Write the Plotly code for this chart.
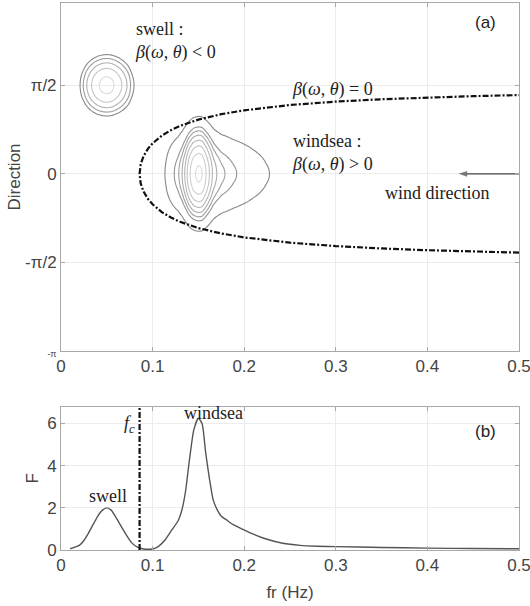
import numpy as np
import plotly.graph_objects as go

# ---------------- data ----------------
# 1-D spectrum F(fr), panel (b)
fr = [0.010, 0.020, 0.025, 0.030, 0.035, 0.040, 0.045, 0.050, 0.055, 0.060,
      0.066, 0.070, 0.077, 0.084, 0.090, 0.100, 0.106, 0.114, 0.121, 0.128,
      0.132, 0.136, 0.140, 0.145, 0.150, 0.154, 0.158, 0.162, 0.166, 0.170,
      0.175, 0.180, 0.188, 0.200, 0.210, 0.224, 0.242, 0.261, 0.280, 0.300,
      0.350, 0.400, 0.450, 0.500]
F = [0.06, 0.22, 0.45, 0.80, 1.20, 1.60, 1.88, 2.00, 1.88, 1.55,
     1.10, 0.80, 0.35, 0.12, 0.05, 0.05, 0.16, 0.50, 0.95, 1.40,
     1.90, 2.80, 4.20, 5.70, 6.25, 6.00, 4.60, 3.40, 2.40, 1.95,
     1.60, 1.45, 1.20, 0.95, 0.75, 0.52, 0.32, 0.22, 0.18, 0.16,
     0.12, 0.09, 0.07, 0.06]

f_c = 0.0858            # cut-off frequency (beta = 0 at theta = 0)
swell_dir = np.pi / 2   # mean direction of swell
wind_dir = 0.0          # mean direction of windsea
swell_spread = 0.27     # directional spreading (rad)
wind_spread = 0.45

# contour levels of the directional spectrum
swell_levels = [0.26, 0.42, 0.67, 1.07, 1.70]
wind_levels = [0.48, 1.12, 1.48, 1.95, 2.58, 3.40, 4.49, 5.90]

# beta(omega, theta) = 0 curve (upper branch)
fr_beta = [0.0858, 0.087, 0.090, 0.095, 0.100, 0.110, 0.120, 0.130, 0.150,
           0.175, 0.200, 0.250, 0.300, 0.350, 0.400, 0.450, 0.500]
th_beta = [0.000, 0.170, 0.310, 0.447, 0.540, 0.678, 0.775, 0.851, 0.962,
           1.058, 1.127, 1.221, 1.281, 1.323, 1.354, 1.378, 1.397]

x_ticks = [0, 0.1, 0.2, 0.3, 0.4, 0.5]
x_ticklabels = ["0", "0.1", "0.2", "0.3", "0.4", "0.5"]
dir_ticks = [-np.pi, -np.pi / 2, 0, np.pi / 2]
dir_ticklabels = ['<span style="font-size:9px">-π</span>', "-π/2", "0", "π/2"]
F_ticks = [0, 2, 4, 6]

serif = "Liberation Serif"
sans = "Liberation Sans"
tick_col = "#444444"
frame_col = "#a8a8a8"
grid_col = "#ececec"
dark_ring = np.array([0x88, 0x88, 0x88])
light_ring = np.array([0xdb, 0xdb, 0xdb])


def ring_color(i, n):
    t = i / max(n - 1, 1)
    c = (dark_ring + (light_ring - dark_ring) * t).astype(int)
    return "rgb(%d,%d,%d)" % tuple(c)


def spectrum_block(f_lo, f_hi, t_lo, t_hi, mean_dir, spread):
    fg = np.round(np.arange(f_lo, f_hi + 1e-9, 0.0015), 5)
    tg = np.round(np.arange(t_lo, t_hi + 1e-9, 0.025), 4)
    E = np.interp(fg, fr, F, left=0.0, right=0.0)
    EE, TT = np.meshgrid(E, tg)
    z = EE * np.exp(-((TT - mean_dir) ** 2) / (2 * spread ** 2))
    return fg, tg, np.round(z, 4)


fig = go.Figure()

blocks = [
    (spectrum_block(0.0, f_c, swell_dir - 1.3, swell_dir + 1.3, swell_dir, swell_spread),
     swell_levels),
    (spectrum_block(f_c, 0.27, -1.7, 1.7, wind_dir, wind_spread), wind_levels),
]
for (fg, tg, z), levels in blocks:
    n = len(levels)
    for i, lev in enumerate(levels):
        fig.add_trace(go.Contour(
            x=fg, y=tg, z=z, xaxis="x", yaxis="y",
            autocontour=False,
            contours=dict(start=lev, end=lev, size=1, coloring="none"),
            line=dict(width=1.1, color=ring_color(i, n)),
            showscale=False, hoverinfo="skip"))

# beta = 0 curve (lower branch mirrored + upper branch)
bx = fr_beta[::-1] + fr_beta[1:]
by = [-t for t in th_beta[::-1]] + th_beta[1:]
fig.add_trace(go.Scatter(
    x=bx, y=by, xaxis="x", yaxis="y", mode="lines",
    line=dict(color="#111111", width=2.2, dash="6px,2px,2px,2px"),
    hoverinfo="skip", showlegend=False))

# wind direction arrow
fig.add_trace(go.Scatter(
    x=[0.5, 0.434], y=[wind_dir, wind_dir], xaxis="x", yaxis="y",
    mode="lines+markers",
    line=dict(color="#444444", width=1.4),
    marker=dict(symbol=["line-ns", "arrow"], size=[0, 9], angleref="previous",
                color="#444444", line=dict(width=0)),
    hoverinfo="skip", showlegend=False, cliponaxis=False))

# panel (b) spectrum
fig.add_trace(go.Scatter(
    x=fr, y=F, xaxis="x2", yaxis="y2", mode="lines",
    line=dict(color="#555555", width=1.4, shape="spline", smoothing=0.6),
    hoverinfo="skip", showlegend=False))
fig.add_trace(go.Scatter(
    x=[f_c, f_c], y=[0, 6.8], xaxis="x2", yaxis="y2", mode="lines",
    line=dict(color="#111111", width=2.2, dash="6px,2px,2px,2px"),
    hoverinfo="skip", showlegend=False))

axis_common = dict(
    showline=True, linecolor=frame_col, linewidth=1, mirror="ticks",
    ticks="inside", ticklen=4, tickcolor=frame_col,
    showgrid=True, gridcolor=grid_col, gridwidth=1, zeroline=False,
    tickfont=dict(family=sans, size=17, color=tick_col),
    ticklabeloverflow="allow", automargin=False,
)

fig.update_layout(
    width=530, height=606,
    margin=dict(l=61, r=11, t=3, b=56),
    paper_bgcolor="white", plot_bgcolor="white",
    showlegend=False,
    xaxis=dict(domain=[0, 1], anchor="y", range=[0, 0.5],
               tickvals=x_ticks, ticktext=x_ticklabels, **axis_common),
    yaxis=dict(domain=[0.3638, 1], anchor="x", range=[-np.pi, 3.03],
               tickvals=dir_ticks, ticktext=dir_ticklabels,
               title=dict(text="Direction", font=dict(family=sans, size=17, color=tick_col),
                          standoff=0),
               **axis_common),
    xaxis2=dict(domain=[0, 1], anchor="y2", range=[0, 0.5],
                tickvals=x_ticks, ticktext=x_ticklabels,
                title=dict(text="fr (Hz)", font=dict(family=sans, size=17, color=tick_col),
                           standoff=11),
                **axis_common),
    yaxis2=dict(domain=[0, 0.262], anchor="x2", range=[0, 6.8],
                tickvals=F_ticks,
                title=dict(text="F", font=dict(family=sans, size=17, color=tick_col),
                           standoff=4),
                **axis_common),
)

txt = "#222222"
sfont = dict(family=serif, size=18, color=txt)
ann = [
    dict(x=0.0785, y=2.35, xref="x", yref="y",
         text="swell :<br><i>β</i>(<i>ω</i>, <i>θ</i>) &lt; 0",
         xanchor="left", align="left", font=sfont),
    dict(x=0.2497, y=1.50, xref="x", yref="y",
         text="<i>β</i>(<i>ω</i>, <i>θ</i>) = 0", xanchor="left", font=sfont),
    dict(x=0.2497, y=0.37, xref="x", yref="y",
         text="windsea :<br><i>β</i>(<i>ω</i>, <i>θ</i>) &gt; 0",
         xanchor="left", align="left", font=sfont),
    dict(x=0.351, y=-0.34, xref="x", yref="y", text="wind direction",
         xanchor="left", font=sfont),
    dict(x=0.463, y=2.69, xref="x", yref="y", text="(a)",
         font=dict(family=sans, size=17, color=txt)),
    dict(x=0.463, y=5.62, xref="x2", yref="y2", text="(b)",
         font=dict(family=sans, size=17, color=txt)),
    dict(x=0.1669, y=6.50, xref="x2", yref="y2", text="windsea", font=sfont),
    dict(x=0.0513, y=2.55, xref="x2", yref="y2", text="swell", font=sfont),
    dict(x=0.0835, y=5.95, xref="x2", yref="y2",
         text="<i>f</i><sub><i>c</i></sub>", xanchor="right", font=sfont),
]
for a in ann:
    a["showarrow"] = False
fig.update_layout(annotations=ann)

fig.write_html("out.html")
